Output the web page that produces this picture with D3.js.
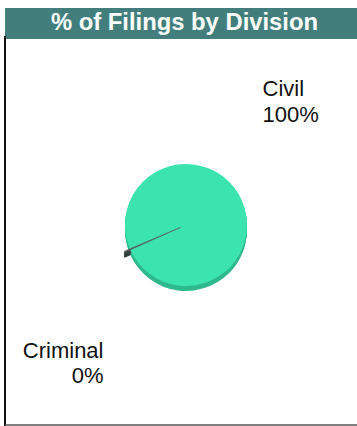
<!DOCTYPE html>
<html><head><meta charset="utf-8">
<script src="https://cdn.jsdelivr.net/npm/d3@7"></script>
<style>body{margin:0;background:#fff}svg{display:block}</style>
</head><body>
<script>
const categories = ["Civil", "Criminal"];
const values = [99.7, 0.3];
const pctLabels = ["100%", "0%"];
const topColors = ["#3be3ad", "#5a6964"];
const sideColors = ["#2fb98c", "#34403c"];

const W = 357, H = 426;
const svg = d3.select("body").append("svg").attr("width", W).attr("height", H);

// frame
svg.append("rect").attr("x", 5).attr("y", 8).attr("width", W - 5).attr("height", 31).attr("fill", "#427f7c");
svg.append("text").attr("x", 184.5).attr("y", 30).attr("text-anchor", "middle")
  .attr("font-family", "Liberation Sans, Arial, sans-serif").attr("font-weight", "bold")
  .attr("font-size", 23.8).attr("fill", "#fff").text("% of Filings by Division");
svg.append("line").attr("x1", 5).attr("x2", 5).attr("y1", 36).attr("y2", 426).attr("stroke", "#111").attr("stroke-width", 2);
svg.append("line").attr("x1", 5).attr("x2", W).attr("y1", 425).attr("y2", 425).attr("stroke", "#555").attr("stroke-width", 1.5);

const cx = 186, cy = 225, r = 61, depth = 5, explode = 6;
const deg = Math.PI / 180;
const start = 246 * deg - (values[0] / d3.sum(values)) * 2 * Math.PI;
const pie = d3.pie().sort(null).startAngle(start).endAngle(start + 2 * Math.PI)(values);
const arc = d3.arc().innerRadius(0).outerRadius(r);
const off = (p, i) => {
  if (i !== 1) return [0, 0];
  const a = (p.startAngle + p.endAngle) / 2;
  return [Math.sin(a) * explode, -Math.cos(a) * explode];
};

const g = svg.append("g").attr("transform", `translate(${cx},${cy})`);
for (let d = depth; d >= 1; d--) {
  g.selectAll(null).data(pie).join("path")
    .attr("transform", (p, i) => { const o = off(p, i); return `translate(${o[0]},${o[1] + d})`; })
    .attr("d", arc).attr("fill", (p, i) => sideColors[i])
    .attr("stroke", (p, i) => i === 1 ? sideColors[1] : "none").attr("stroke-width", 1);
}
g.selectAll(null).data(pie).join("path")
  .attr("transform", (p, i) => { const o = off(p, i); return `translate(${o[0]},${o[1]})`; })
  .attr("d", arc).attr("fill", (p, i) => topColors[i])
  .attr("stroke", (p, i) => i === 1 ? topColors[1] : "none").attr("stroke-width", 0.6);

// labels
const font = "Liberation Sans, Arial, sans-serif";
const lab = svg.append("g").attr("font-family", font).attr("font-size", 22).attr("fill", "#111");
lab.append("text").attr("x", 262.5).attr("y", 96).text(categories[0]);
lab.append("text").attr("x", 262.5).attr("y", 122).text(pctLabels[0]);
lab.append("text").attr("x", 103.5).attr("y", 357.5).attr("text-anchor", "end").text(categories[1]);
lab.append("text").attr("x", 103.5).attr("y", 382.5).attr("text-anchor", "end").text(pctLabels[1]);
</script>
</body></html>
